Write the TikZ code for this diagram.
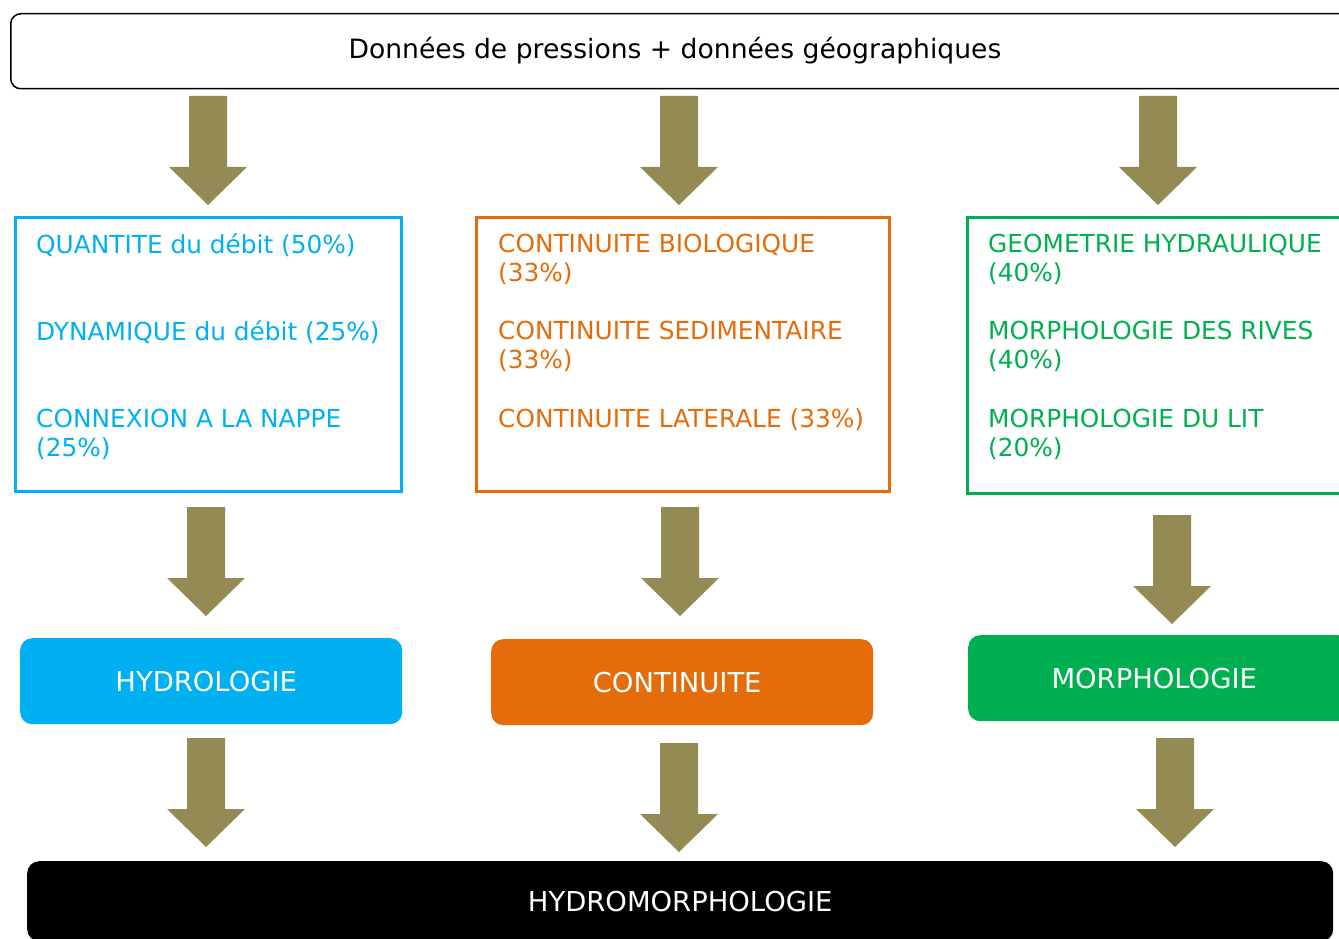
\documentclass[tikz,border=0pt]{standalone}
\usepackage{fontspec}
\setmainfont{DejaVu Sans}
\definecolor{cblue}{HTML}{00B0F0}
\definecolor{corange}{HTML}{E46C0A}
\definecolor{cgreen}{HTML}{00B050}
\definecolor{colive}{HTML}{948A54}
\newcommand\itemfont{\fontsize{24.8}{29.3}\selectfont}
\newcommand\catfont{\fontsize{27.4}{30}\selectfont}
\newcommand\topfont{\fontsize{26.6}{30}\selectfont}
\newcommand\barrow[4]{\fill[colive] (#1-19,#2) -- (#1+19,#2) -- (#1+19,#3) -- (#1+39,#3) -- (#1,#4) -- (#1-39,#3) -- (#1-19,#3) -- cycle;}
\begin{document}
\begin{tikzpicture}[x=1pt,y=-1pt,
  topbox/.style={draw=black, line width=1.5pt, rounded corners=10pt, minimum width=1350pt, minimum height=75pt, anchor=north west, inner sep=0pt},
  critbox/.style={draw=#1, line width=3pt, anchor=north west, inner sep=0pt},
  catbox/.style={fill=#1, rounded corners=12pt, anchor=north west, text=white, font=\catfont, inner sep=0pt, minimum width=382pt, minimum height=86pt},
  itemtxt/.style={anchor=west, align=left, inner sep=0pt, font=\itemfont, text=#1}]
\useasboundingbox (0,0) rectangle (1339,939);
\clip (0,0) rectangle (1339,939);
% top box
\node[topbox] (top) at (10,13) {};
\node[font=\topfont, inner sep=0pt] (toptext) at (675,50.5) {Données de pressions + données géographiques};
% criteria boxes
\node[critbox=cblue, minimum width=386pt, minimum height=274pt] (b1) at (14,216) {};
\node[critbox=corange, minimum width=413pt, minimum height=274pt] (b2) at (475,216) {};
\node[critbox=cgreen, minimum width=420pt, minimum height=276pt] (b3) at (966,216) {};
% blue items
\node[itemtxt=cblue] (q1) at (36,245) {QUANTITE du débit (50\%)};
\node[itemtxt=cblue] (q2) at (36,332) {DYNAMIQUE du débit (25\%)};
\node[itemtxt=cblue] (q3) at (36,434.5) {CONNEXION A LA NAPPE\\(25\%)};
% orange items
\node[itemtxt=corange] (c1) at (498,259.5) {CONTINUITE BIOLOGIQUE\\(33\%)};
\node[itemtxt=corange] (c2) at (498,346.5) {CONTINUITE SEDIMENTAIRE\\(33\%)};
\node[itemtxt=corange] (c3) at (498,420) {CONTINUITE LATERALE (33\%)};
% green items
\node[itemtxt=cgreen] (g1) at (988,259.5) {GEOMETRIE HYDRAULIQUE\\(40\%)};
\node[itemtxt=cgreen] (g2) at (988,346.5) {MORPHOLOGIE DES RIVES\\(40\%)};
\node[itemtxt=cgreen] (g3) at (988,434.5) {MORPHOLOGIE DU LIT\\(20\%)};
% category boxes
\node[catbox=cblue] (hyd) at (20,638) {\kern-10pt HYDROLOGIE};
\node[catbox=corange] (cont) at (491,639) {\kern-10pt CONTINUITE};
\node[catbox=cgreen] (morph) at (968,635) {\kern-10pt MORPHOLOGIE};
% final box
\node[fill=black, rounded corners=12pt, anchor=north west, text=white, font=\catfont, inner sep=0pt, minimum width=1306pt, minimum height=80pt] (hm) at (27,861) {HYDROMORPHOLOGIE};
% arrows
\barrow{208}{96}{167}{205}
\barrow{679}{96}{167}{205}
\barrow{1158}{96}{167}{205}
\barrow{206}{507}{578}{616}
\barrow{680}{507}{578}{616}
\barrow{1172}{515}{586}{624}
\barrow{206}{738}{809}{847}
\barrow{679}{743}{814}{852}
\barrow{1175}{738}{809}{847}
\end{tikzpicture}
\end{document}
